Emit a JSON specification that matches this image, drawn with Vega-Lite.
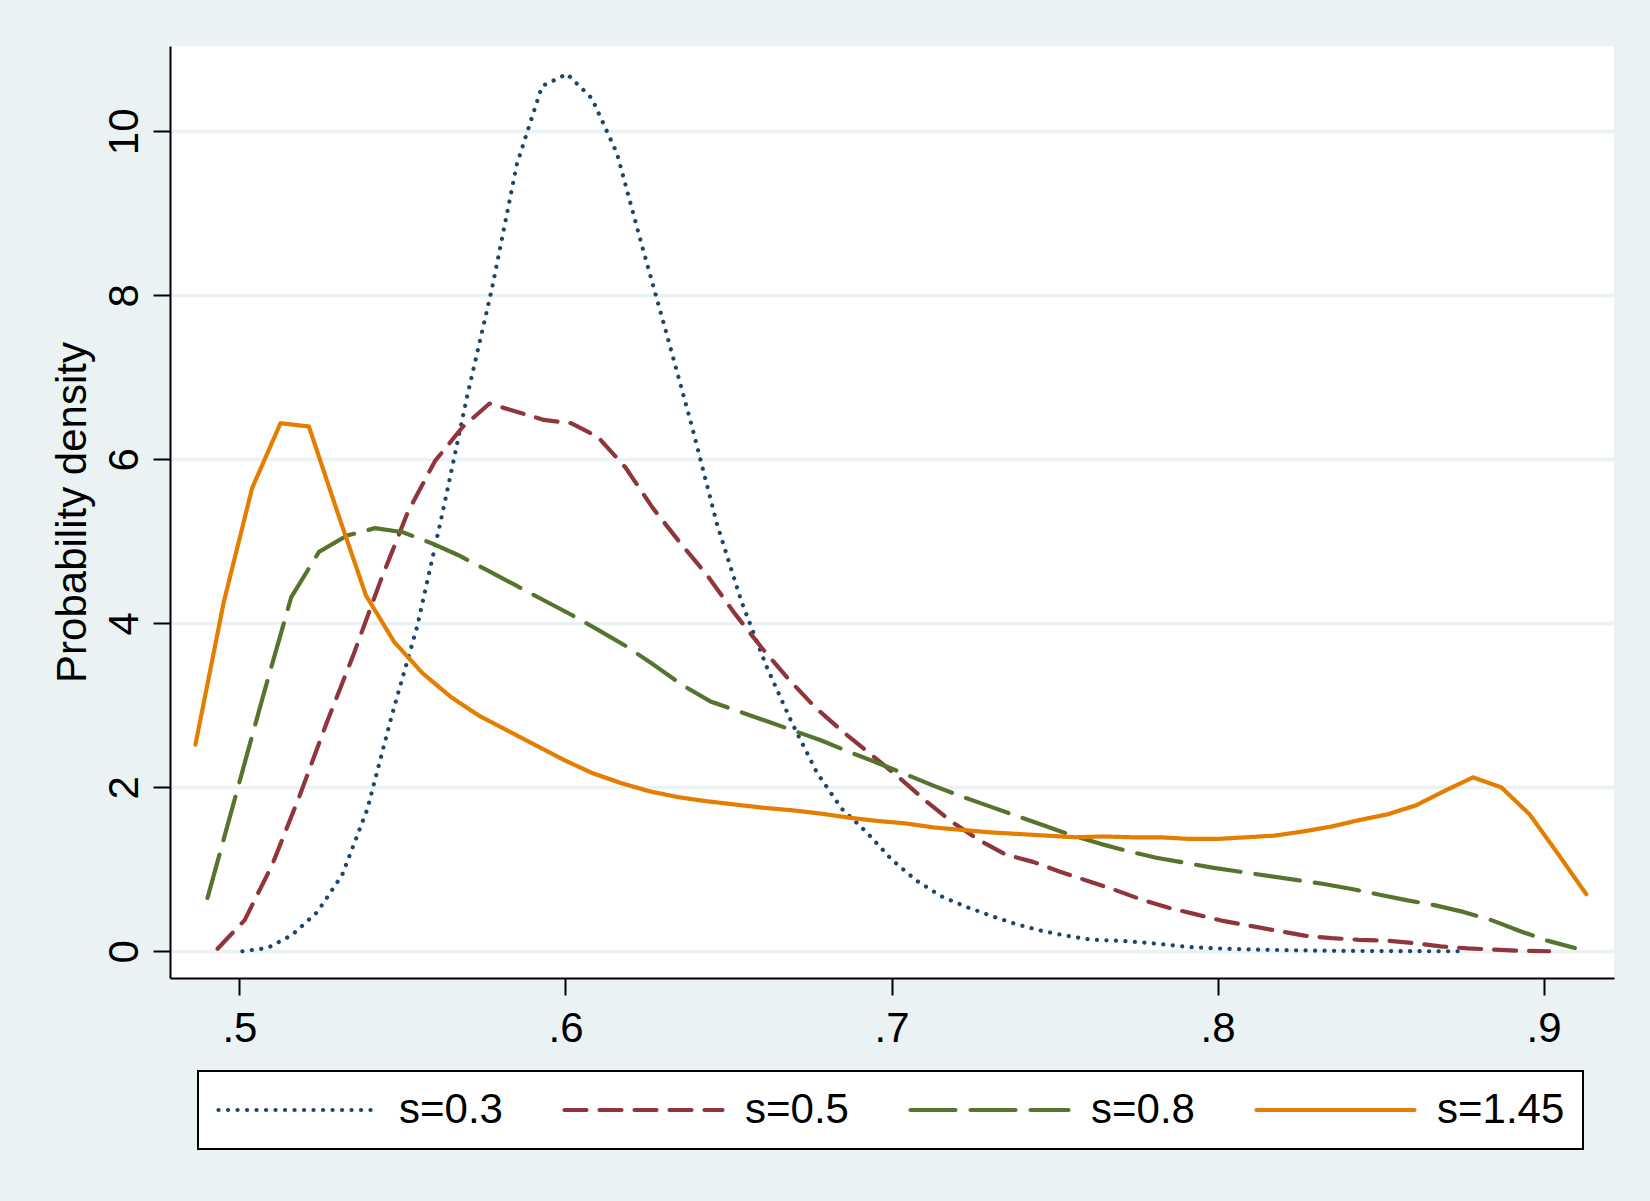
{
  "$schema": "https://vega.github.io/schema/vega-lite/v6.json",
  "width": 1444,
  "height": 932,
  "autosize": {"type": "none"},
  "padding": {"left": 170, "top": 46, "right": 36, "bottom": 223},
  "background": "#EAF2F3",
  "config": {
    "view": {"stroke": null, "fill": "white"},
    "font": "Liberation Sans",
    "axis": {
      "domainColor": "black", "domainWidth": 2, "tickColor": "black", "tickWidth": 2,
      "tickSize": 17, "labelColor": "black", "labelFont": "Liberation Sans", "labelFontSize": 42,
      "labelFlush": false, "labelOverlap": false, "labelBound": false,
      "titleFont": "Liberation Sans", "titleFontWeight": "normal", "titleColor": "black"
    },
    "legend": {"strokeWidth": 2}
  },
  "data": {
    "values": [
      {"s":"s=0.3","x":0.5009,"y":0.0},{"s":"s=0.3","x":0.5086,"y":0.04},{"s":"s=0.3","x":0.5162,"y":0.20},{"s":"s=0.3","x":0.5239,"y":0.48},{"s":"s=0.3","x":0.5315,"y":0.93},{"s":"s=0.3","x":0.5392,"y":1.73},{"s":"s=0.3","x":0.5469,"y":2.90},{"s":"s=0.3","x":0.5545,"y":3.96},{"s":"s=0.3","x":0.5622,"y":5.33},{"s":"s=0.3","x":0.5698,"y":6.76},{"s":"s=0.3","x":0.5775,"y":8.09},{"s":"s=0.3","x":0.5851,"y":9.60},{"s":"s=0.3","x":0.5928,"y":10.55},{"s":"s=0.3","x":0.6005,"y":10.70},{"s":"s=0.3","x":0.6081,"y":10.40},{"s":"s=0.3","x":0.6158,"y":9.73},{"s":"s=0.3","x":0.6235,"y":8.60},{"s":"s=0.3","x":0.6311,"y":7.52},{"s":"s=0.3","x":0.6388,"y":6.40},{"s":"s=0.3","x":0.6464,"y":5.22},{"s":"s=0.3","x":0.6541,"y":4.25},{"s":"s=0.3","x":0.6617,"y":3.47},{"s":"s=0.3","x":0.6694,"y":2.79},{"s":"s=0.3","x":0.6771,"y":2.18},{"s":"s=0.3","x":0.6847,"y":1.74},{"s":"s=0.3","x":0.6924,"y":1.45},{"s":"s=0.3","x":0.7000,"y":1.12},{"s":"s=0.3","x":0.7077,"y":0.86},{"s":"s=0.3","x":0.7153,"y":0.67},{"s":"s=0.3","x":0.7230,"y":0.54},{"s":"s=0.3","x":0.7307,"y":0.43},{"s":"s=0.3","x":0.7383,"y":0.33},{"s":"s=0.3","x":0.7460,"y":0.25},{"s":"s=0.3","x":0.7536,"y":0.19},{"s":"s=0.3","x":0.7613,"y":0.14},{"s":"s=0.3","x":0.7690,"y":0.13},{"s":"s=0.3","x":0.7766,"y":0.11},{"s":"s=0.3","x":0.7843,"y":0.08},{"s":"s=0.3","x":0.7919,"y":0.05},{"s":"s=0.3","x":0.7996,"y":0.035},{"s":"s=0.3","x":0.8073,"y":0.025},{"s":"s=0.3","x":0.8149,"y":0.018},{"s":"s=0.3","x":0.8226,"y":0.012},{"s":"s=0.3","x":0.8302,"y":0.008},{"s":"s=0.3","x":0.8379,"y":0.005},{"s":"s=0.3","x":0.8456,"y":0.003},{"s":"s=0.3","x":0.8532,"y":0.002},{"s":"s=0.3","x":0.8609,"y":0.001},{"s":"s=0.3","x":0.8685,"y":0.0},{"s":"s=0.3","x":0.8762,"y":0.0},

      {"s":"s=0.5","x":0.4933,"y":0.03},{"s":"s=0.5","x":0.5016,"y":0.38},{"s":"s=0.5","x":0.5100,"y":1.05},{"s":"s=0.5","x":0.5183,"y":1.88},{"s":"s=0.5","x":0.5267,"y":2.78},{"s":"s=0.5","x":0.5350,"y":3.62},{"s":"s=0.5","x":0.5433,"y":4.52},{"s":"s=0.5","x":0.5517,"y":5.36},{"s":"s=0.5","x":0.5600,"y":5.98},{"s":"s=0.5","x":0.5684,"y":6.39},{"s":"s=0.5","x":0.5767,"y":6.68},{"s":"s=0.5","x":0.5850,"y":6.58},{"s":"s=0.5","x":0.5934,"y":6.48},{"s":"s=0.5","x":0.6017,"y":6.44},{"s":"s=0.5","x":0.6100,"y":6.27},{"s":"s=0.5","x":0.6184,"y":5.90},{"s":"s=0.5","x":0.6267,"y":5.41},{"s":"s=0.5","x":0.6350,"y":4.99},{"s":"s=0.5","x":0.6434,"y":4.59},{"s":"s=0.5","x":0.6517,"y":4.13},{"s":"s=0.5","x":0.6600,"y":3.71},{"s":"s=0.5","x":0.6684,"y":3.32},{"s":"s=0.5","x":0.6767,"y":2.97},{"s":"s=0.5","x":0.6850,"y":2.68},{"s":"s=0.5","x":0.6934,"y":2.41},{"s":"s=0.5","x":0.7017,"y":2.14},{"s":"s=0.5","x":0.7100,"y":1.85},{"s":"s=0.5","x":0.7184,"y":1.58},{"s":"s=0.5","x":0.7267,"y":1.36},{"s":"s=0.5","x":0.7350,"y":1.18},{"s":"s=0.5","x":0.7434,"y":1.09},{"s":"s=0.5","x":0.7517,"y":0.97},{"s":"s=0.5","x":0.7600,"y":0.86},{"s":"s=0.5","x":0.7684,"y":0.75},{"s":"s=0.5","x":0.7767,"y":0.63},{"s":"s=0.5","x":0.7850,"y":0.53},{"s":"s=0.5","x":0.7934,"y":0.45},{"s":"s=0.5","x":0.8017,"y":0.37},{"s":"s=0.5","x":0.8100,"y":0.31},{"s":"s=0.5","x":0.8184,"y":0.25},{"s":"s=0.5","x":0.8267,"y":0.19},{"s":"s=0.5","x":0.8350,"y":0.16},{"s":"s=0.5","x":0.8434,"y":0.14},{"s":"s=0.5","x":0.8517,"y":0.13},{"s":"s=0.5","x":0.8600,"y":0.10},{"s":"s=0.5","x":0.8684,"y":0.06},{"s":"s=0.5","x":0.8767,"y":0.035},{"s":"s=0.5","x":0.8850,"y":0.02},{"s":"s=0.5","x":0.8934,"y":0.005},{"s":"s=0.5","x":0.9017,"y":0.0},

      {"s":"s=0.8","x":0.4902,"y":0.65},{"s":"s=0.8","x":0.4988,"y":1.89},{"s":"s=0.8","x":0.5073,"y":3.12},{"s":"s=0.8","x":0.5159,"y":4.32},{"s":"s=0.8","x":0.5244,"y":4.87},{"s":"s=0.8","x":0.5330,"y":5.07},{"s":"s=0.8","x":0.5416,"y":5.16},{"s":"s=0.8","x":0.5501,"y":5.11},{"s":"s=0.8","x":0.5587,"y":4.98},{"s":"s=0.8","x":0.5672,"y":4.83},{"s":"s=0.8","x":0.5758,"y":4.65},{"s":"s=0.8","x":0.5844,"y":4.47},{"s":"s=0.8","x":0.5929,"y":4.29},{"s":"s=0.8","x":0.6015,"y":4.11},{"s":"s=0.8","x":0.6100,"y":3.92},{"s":"s=0.8","x":0.6186,"y":3.72},{"s":"s=0.8","x":0.6272,"y":3.49},{"s":"s=0.8","x":0.6357,"y":3.25},{"s":"s=0.8","x":0.6443,"y":3.05},{"s":"s=0.8","x":0.6528,"y":2.93},{"s":"s=0.8","x":0.6614,"y":2.81},{"s":"s=0.8","x":0.6700,"y":2.69},{"s":"s=0.8","x":0.6785,"y":2.57},{"s":"s=0.8","x":0.6871,"y":2.43},{"s":"s=0.8","x":0.6956,"y":2.30},{"s":"s=0.8","x":0.7042,"y":2.16},{"s":"s=0.8","x":0.7128,"y":2.02},{"s":"s=0.8","x":0.7213,"y":1.89},{"s":"s=0.8","x":0.7299,"y":1.77},{"s":"s=0.8","x":0.7384,"y":1.65},{"s":"s=0.8","x":0.7470,"y":1.53},{"s":"s=0.8","x":0.7556,"y":1.41},{"s":"s=0.8","x":0.7641,"y":1.31},{"s":"s=0.8","x":0.7727,"y":1.22},{"s":"s=0.8","x":0.7812,"y":1.14},{"s":"s=0.8","x":0.7898,"y":1.08},{"s":"s=0.8","x":0.7984,"y":1.02},{"s":"s=0.8","x":0.8069,"y":0.97},{"s":"s=0.8","x":0.8155,"y":0.92},{"s":"s=0.8","x":0.8240,"y":0.87},{"s":"s=0.8","x":0.8326,"y":0.82},{"s":"s=0.8","x":0.8412,"y":0.76},{"s":"s=0.8","x":0.8497,"y":0.69},{"s":"s=0.8","x":0.8583,"y":0.62},{"s":"s=0.8","x":0.8668,"y":0.56},{"s":"s=0.8","x":0.8754,"y":0.48},{"s":"s=0.8","x":0.8840,"y":0.38},{"s":"s=0.8","x":0.8925,"y":0.25},{"s":"s=0.8","x":0.9011,"y":0.13},{"s":"s=0.8","x":0.9096,"y":0.04},

      {"s":"s=1.45","x":0.4865,"y":2.52},{"s":"s=1.45","x":0.4952,"y":4.26},{"s":"s=1.45","x":0.5039,"y":5.65},{"s":"s=1.45","x":0.5126,"y":6.44},{"s":"s=1.45","x":0.5213,"y":6.40},{"s":"s=1.45","x":0.5301,"y":5.35},{"s":"s=1.45","x":0.5388,"y":4.34},{"s":"s=1.45","x":0.5475,"y":3.77},{"s":"s=1.45","x":0.5562,"y":3.39},{"s":"s=1.45","x":0.5649,"y":3.10},{"s":"s=1.45","x":0.5736,"y":2.87},{"s":"s=1.45","x":0.5823,"y":2.69},{"s":"s=1.45","x":0.5910,"y":2.51},{"s":"s=1.45","x":0.5997,"y":2.33},{"s":"s=1.45","x":0.6084,"y":2.17},{"s":"s=1.45","x":0.6171,"y":2.05},{"s":"s=1.45","x":0.6258,"y":1.95},{"s":"s=1.45","x":0.6345,"y":1.88},{"s":"s=1.45","x":0.6432,"y":1.83},{"s":"s=1.45","x":0.6519,"y":1.79},{"s":"s=1.45","x":0.6607,"y":1.75},{"s":"s=1.45","x":0.6694,"y":1.72},{"s":"s=1.45","x":0.6781,"y":1.68},{"s":"s=1.45","x":0.6868,"y":1.63},{"s":"s=1.45","x":0.6955,"y":1.59},{"s":"s=1.45","x":0.7042,"y":1.56},{"s":"s=1.45","x":0.7129,"y":1.51},{"s":"s=1.45","x":0.7216,"y":1.48},{"s":"s=1.45","x":0.7303,"y":1.45},{"s":"s=1.45","x":0.7390,"y":1.43},{"s":"s=1.45","x":0.7477,"y":1.41},{"s":"s=1.45","x":0.7564,"y":1.39},{"s":"s=1.45","x":0.7651,"y":1.40},{"s":"s=1.45","x":0.7738,"y":1.39},{"s":"s=1.45","x":0.7825,"y":1.39},{"s":"s=1.45","x":0.7913,"y":1.37},{"s":"s=1.45","x":0.8000,"y":1.37},{"s":"s=1.45","x":0.8087,"y":1.39},{"s":"s=1.45","x":0.8174,"y":1.41},{"s":"s=1.45","x":0.8261,"y":1.46},{"s":"s=1.45","x":0.8348,"y":1.52},{"s":"s=1.45","x":0.8435,"y":1.60},{"s":"s=1.45","x":0.8522,"y":1.67},{"s":"s=1.45","x":0.8609,"y":1.78},{"s":"s=1.45","x":0.8696,"y":1.955},{"s":"s=1.45","x":0.8783,"y":2.12},{"s":"s=1.45","x":0.8870,"y":2.00},{"s":"s=1.45","x":0.8957,"y":1.67},{"s":"s=1.45","x":0.9044,"y":1.19},{"s":"s=1.45","x":0.9131,"y":0.695}
    ]
  },
  "mark": {"type": "line", "strokeWidth": 4.2, "strokeCap": "round", "strokeJoin": "round", "clip": true},
  "encoding": {
    "x": {
      "field": "x", "type": "quantitative",
      "scale": {"domain": [0.4787, 0.9216], "nice": false, "zero": false},
      "axis": {
        "title": null, "grid": false, "values": [0.5, 0.6, 0.7, 0.8, 0.9],
        "labelExpr": "substring(format(datum.value, '.1f'), 1)", "labelPadding": 13
      }
    },
    "y": {
      "field": "y", "type": "quantitative",
      "scale": {"domain": [-0.326, 11.04], "nice": false, "zero": false},
      "axis": {
        "title": "Probability density", "titleFontSize": 42, "titlePadding": 9,
        "values": [0, 2, 4, 6, 8, 10], "grid": true, "gridColor": "#EAF2F3", "gridWidth": 3.5,
        "labelAngle": -90, "labelAlign": "center", "labelBaseline": "bottom", "labelPadding": 7
      }
    },
    "color": {
      "field": "s", "type": "nominal",
      "scale": {"domain": ["s=0.3", "s=0.5", "s=0.8", "s=1.45"], "range": ["#1a476f", "#90353b", "#55752f", "#e37e00"]},
      "legend": {
        "title": null, "orient": "none", "legendX": 28, "legendY": 1025, "direction": "horizontal",
        "columns": 4, "gridAlign": "all", "symbolType": "stroke", "symbolSize": 24964,
        "symbolStrokeWidth": 4.2, "labelFontSize": 42, "labelFont": "Liberation Sans", "labelColor": "black",
        "labelOffset": 20, "columnPadding": 35, "padding": 18, "clipHeight": 42,
        "strokeColor": "black", "fillColor": "white", "labelLimit": 0,
        "encode": {"symbols": {"update": {"strokeCap": {"value": "round"}}}}
      }
    },
    "strokeDash": {
      "field": "s", "type": "nominal",
      "scale": {"domain": ["s=0.3", "s=0.5", "s=0.8", "s=1.45"], "range": [[0.1, 9.4], [22, 13], [45, 15], [1, 0]]},
      "legend": {
        "title": null, "orient": "none", "legendX": 28, "legendY": 1025, "direction": "horizontal",
        "columns": 4, "gridAlign": "all", "symbolType": "stroke", "symbolSize": 24964,
        "symbolStrokeWidth": 4.2, "labelFontSize": 42, "labelFont": "Liberation Sans", "labelColor": "black",
        "labelOffset": 20, "columnPadding": 35, "padding": 18, "clipHeight": 42,
        "strokeColor": "black", "fillColor": "white", "labelLimit": 0,
        "encode": {"symbols": {"update": {"strokeCap": {"value": "round"}}}}
      }
    }
  }
}
